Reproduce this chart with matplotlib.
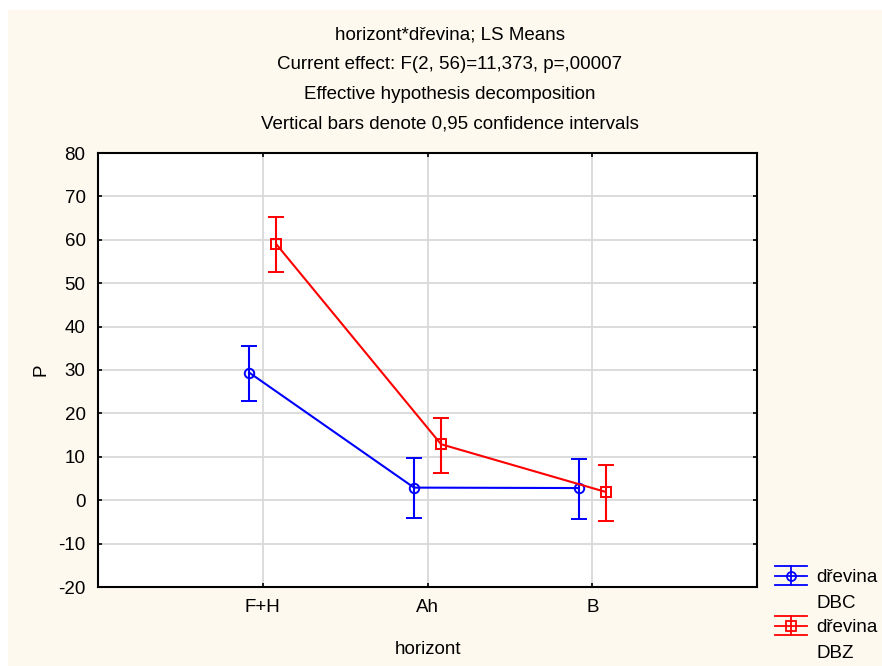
import numpy as np
import matplotlib.pyplot as plt
from matplotlib.patches import Rectangle
from matplotlib.lines import Line2D

horizont = ["F+H", "Ah", "B"]
dbc_mean = [29.4, 2.9, 2.8]
dbc_low = [22.9, -4.1, -4.3]
dbc_high = [35.6, 9.8, 9.6]
dbz_mean = [59.0, 12.9, 1.9]
dbz_low = [52.5, 6.3, -4.7]
dbz_high = [65.2, 18.9, 8.0]

title_lines = ["horizont*dřevina; LS Means",
               "Current effect: F(2, 56)=11,373, p=,00007",
               "Effective hypothesis decomposition",
               "Vertical bars denote 0,95 confidence intervals"]

plt.rcParams['font.family'] = ['Liberation Sans', 'DejaVu Sans']
plt.rcParams['axes.unicode_minus'] = False
fs = 13.5

W, H = 882, 666
fig = plt.figure(figsize=(W / 100, H / 100), dpi=100, facecolor='white')
cream = '#FDF9EE'
fig.add_artist(Rectangle((8 / W, 0), 1 - 8 / W, 1 - 10 / H, transform=fig.transFigure,
                         facecolor=cream, edgecolor='none', zorder=-10))

ax = fig.add_axes([98 / W, 79 / H, 659 / W, 434 / H])
ax.set_facecolor('white')

x = np.arange(1, len(horizont) + 1)
off = 0.082
series = [
    (dbc_mean, dbc_low, dbc_high, -off, '#0000FF', 'o'),
    (dbz_mean, dbz_low, dbz_high, off, '#FF0000', 's'),
]
for m, lo, hi, dx, col, mk in series:
    m = np.array(m)
    yerr = [m - np.array(lo), np.array(hi) - m]
    ax.errorbar(x + dx, m, yerr=yerr, color=col, marker=mk, markersize=6.8,
                markerfacecolor='none', markeredgecolor=col, markeredgewidth=1.4,
                linewidth=1.5, elinewidth=1.5, capsize=5.8, capthick=1.5, zorder=3)

ax.set_xlim(0, 4)
ax.set_ylim(-20, 80)
ax.set_xticks(x)
ax.set_xticklabels(horizont)
ax.set_yticks(np.arange(-20, 81, 10))
ax.grid(True, color='#D9D9D9', linewidth=1.3)
ax.set_axisbelow(True)
ax.tick_params(direction='in', length=3, width=1.2, top=True, right=True,
               labelsize=fs, colors='black', pad=9)
for s in ax.spines.values():
    s.set_linewidth(1.5)
    s.set_color('black')

ax.set_xlabel("horizont", fontsize=fs, labelpad=18)
ax.set_ylabel("P", fontsize=fs, labelpad=6)

for i, t in enumerate(title_lines):
    fig.text(450 / W, 1 - (35 + i * 29.6) / H, t, ha='center', va='center', fontsize=fs)

# legend drawn by hand
def legend_entry(yc, col, mk, name):
    x0, x1 = 775 / W, 807 / W
    xm = (x0 + x1) / 2
    for dy in (-9.5, 0, 9.5):
        fig.add_artist(Line2D([x0, x1], [1 - (yc + dy) / H] * 2, color=col, lw=1.3,
                              transform=fig.transFigure))
    fig.add_artist(Line2D([xm, xm], [1 - (yc - 9.5) / H, 1 - (yc + 9.5) / H], color=col,
                          lw=1.3, transform=fig.transFigure))
    fig.add_artist(Line2D([xm], [1 - yc / H], marker=mk, markersize=6.5, color=col,
                          markerfacecolor='none', markeredgewidth=1.3,
                          transform=fig.transFigure))
    fig.text(816 / W, 1 - (yc + 2) / H, "dřevina", ha='left', va='center', fontsize=fs)
    fig.text(816 / W, 1 - (yc + 28) / H, name, ha='left', va='center', fontsize=fs)

legend_entry(575.5, '#0000FF', 'o', 'DBC')
legend_entry(625.5, '#FF0000', 's', 'DBZ')

fig.savefig('out.png', dpi=100, facecolor=fig.get_facecolor())
